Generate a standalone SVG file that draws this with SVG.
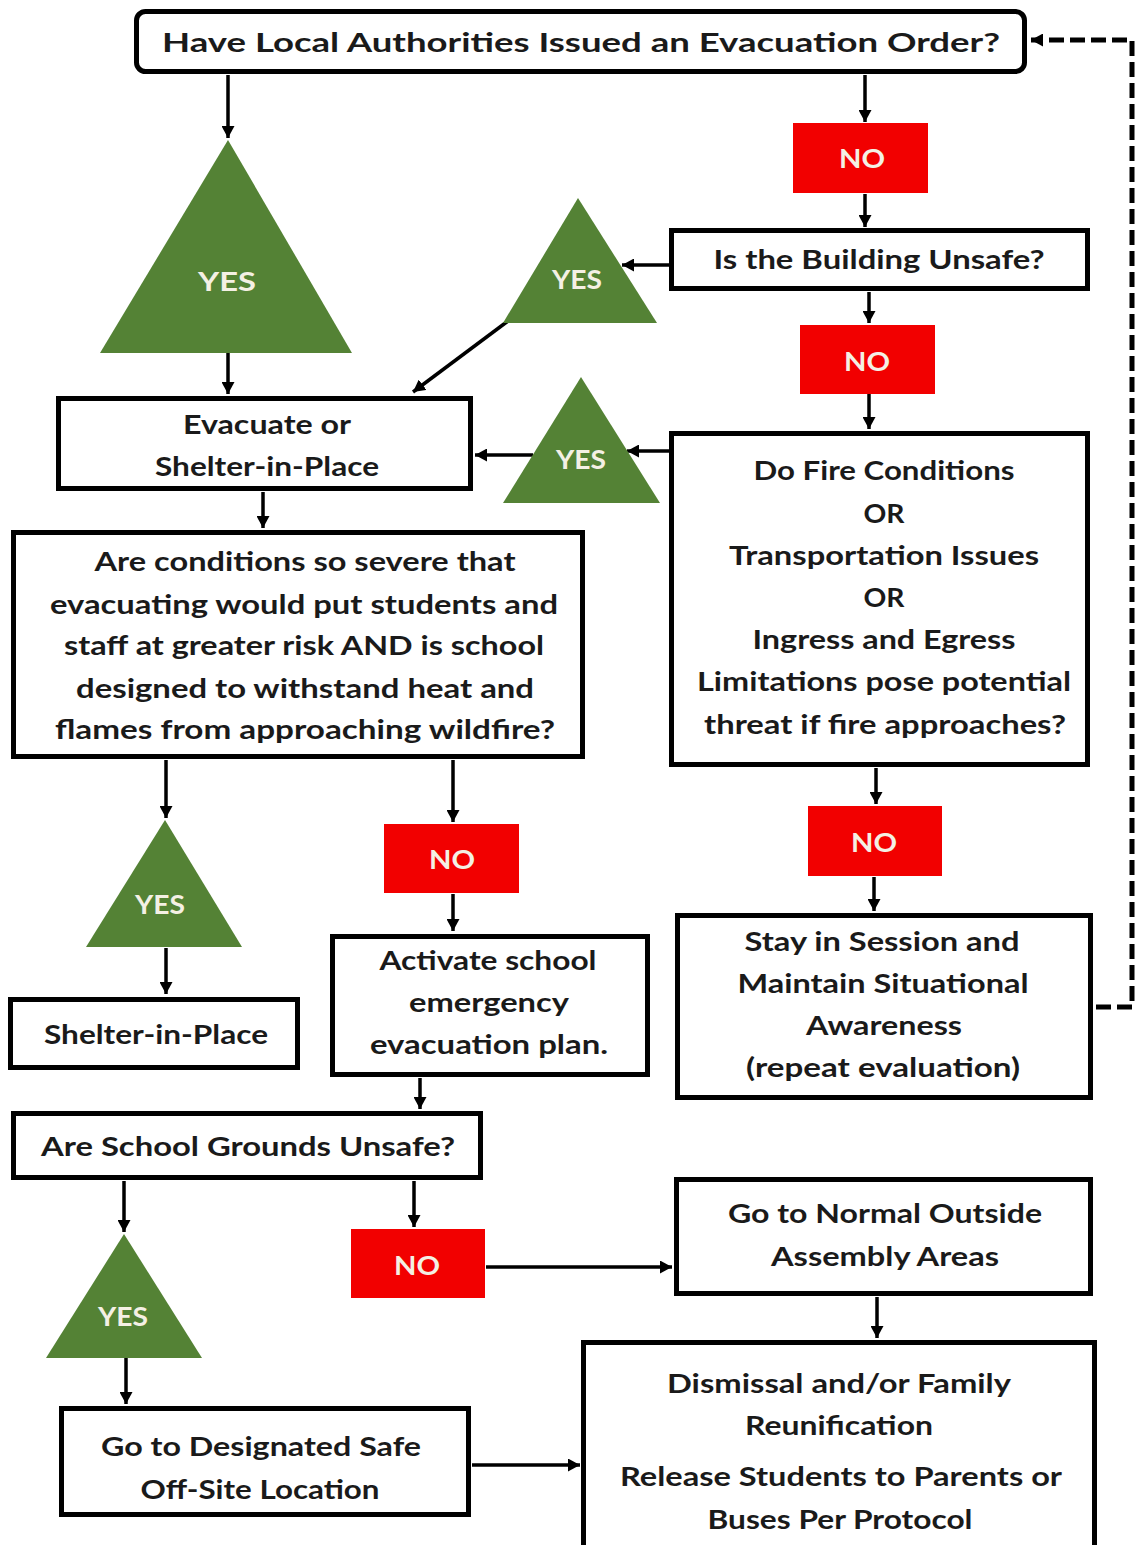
<svg xmlns="http://www.w3.org/2000/svg" width="1135" height="1545" viewBox="0 0 1135 1545">
<style>
  .box{fill:#ffffff;stroke:#000;stroke-width:5}
  .no{fill:#f20000}
  .yes{fill:#548235}
  .t{font-family:Lato,"Open Sans","Liberation Sans",sans-serif;font-weight:700;font-size:27px;fill:#1a1a1a;text-anchor:middle}
  .lbl{font-family:Lato,"Open Sans","Liberation Sans",sans-serif;font-weight:700;font-size:27px;fill:#f4f0e4;text-anchor:middle}
  .c{fill:none;stroke:#000;stroke-width:3.5;marker-end:url(#ah)}
  .d{fill:none;stroke:#000;stroke-width:5;stroke-dasharray:15 6;marker-end:url(#ah)}
</style>
<defs>
  <marker id="ah" markerUnits="userSpaceOnUse" markerWidth="13" markerHeight="13" refX="12" refY="6.5" orient="auto">
    <path d="M0,0 L12,6.5 L0,13 z" fill="#000"/>
  </marker>
</defs>
<rect width="1135" height="1545" fill="#fff"/>
<g id="connectors">
  <path class="c" d="M228,75 V138"/>
  <path class="c" d="M865,75 V122"/>
  <path class="c" d="M865,194 V227"/>
  <path class="c" d="M669,265 H622"/>
  <path class="c" d="M508,321 L413,392"/>
  <path class="c" d="M228,353 V394"/>
  <path class="c" d="M869,292 V323"/>
  <path class="c" d="M869,394 V429"/>
  <path class="c" d="M669,451 H627"/>
  <path class="c" d="M533,455 H475"/>
  <path class="c" d="M263,492 V528"/>
  <path class="c" d="M166,760 V818"/>
  <path class="c" d="M453,760 V822"/>
  <path class="c" d="M166,948 V994"/>
  <path class="c" d="M453,894 V931"/>
  <path class="c" d="M420,1078 V1109"/>
  <path class="c" d="M124,1181 V1232"/>
  <path class="c" d="M414,1181 V1227"/>
  <path class="c" d="M126,1358 V1404"/>
  <path class="c" d="M486,1267 H672"/>
  <path class="c" d="M877,1297 V1338"/>
  <path class="c" d="M472,1465 H580"/>
  <path class="c" d="M876,768 V804"/>
  <path class="c" d="M874,877 V911"/>
  <path class="d" d="M1096,1007 H1132 V40 H1031"/>
</g>
<g id="n-evac-order">
  <rect class="box" x="136.5" y="11.5" width="888" height="60" rx="9"/>
  <text class="t" x="581" y="52" font-size="30" textLength="838" lengthAdjust="spacingAndGlyphs">Have Local Authorities Issued an Evacuation Order?</text>
</g>
<g id="n-yes1">
  <polygon class="yes" points="228,140 100,353 352,353"/>
  <text class="lbl" x="227" y="291" font-size="32" textLength="58" lengthAdjust="spacingAndGlyphs">YES</text>
</g>
<g id="n-no1">
  <rect class="no" x="793" y="123" width="135" height="70"/>
  <text class="lbl" x="862" y="168" textLength="46" lengthAdjust="spacingAndGlyphs">NO</text>
</g>
<g id="n-building">
  <rect class="box" x="671.5" y="230.5" width="416" height="58"/>
  <text class="t" x="879" y="269" textLength="331" lengthAdjust="spacingAndGlyphs">Is the Building Unsafe?</text>
</g>
<g id="n-yes2">
  <polygon class="yes" points="578,198 503,323 657,323"/>
  <text class="lbl" x="577" y="289" textLength="50" lengthAdjust="spacingAndGlyphs">YES</text>
</g>
<g id="n-no2">
  <rect class="no" x="800" y="325" width="135" height="69"/>
  <text class="lbl" x="867" y="371" textLength="46" lengthAdjust="spacingAndGlyphs">NO</text>
</g>
<g id="n-evacuate">
  <rect class="box" x="58.5" y="398.5" width="412" height="90"/>
  <text class="t" x="267" y="434" textLength="168" lengthAdjust="spacingAndGlyphs">Evacuate or</text>
  <text class="t" x="267" y="476" textLength="224" lengthAdjust="spacingAndGlyphs">Shelter-in-Place</text>
</g>
<g id="n-yes3">
  <polygon class="yes" points="581,377 503,503 660,503"/>
  <text class="lbl" x="581" y="469" textLength="50" lengthAdjust="spacingAndGlyphs">YES</text>
</g>
<g id="n-fire">
  <rect class="box" x="671.5" y="433.5" width="416" height="331"/>
  <text class="t" x="884" y="480" textLength="261" lengthAdjust="spacingAndGlyphs">Do Fire Conditions</text>
  <text class="t" x="884" y="523" textLength="41" lengthAdjust="spacingAndGlyphs">OR</text>
  <text class="t" x="884" y="565" textLength="310" lengthAdjust="spacingAndGlyphs">Transportation  Issues</text>
  <text class="t" x="884" y="607" textLength="41" lengthAdjust="spacingAndGlyphs">OR</text>
  <text class="t" x="884" y="649" textLength="263" lengthAdjust="spacingAndGlyphs">Ingress and Egress</text>
  <text class="t" x="884" y="691" textLength="374" lengthAdjust="spacingAndGlyphs">Limitations pose potential</text>
  <text class="t" x="885" y="734" textLength="362" lengthAdjust="spacingAndGlyphs">threat if fire approaches?</text>
</g>
<g id="n-severe">
  <rect class="box" x="13.5" y="532.5" width="569" height="224"/>
  <text class="t" x="305" y="571" textLength="421" lengthAdjust="spacingAndGlyphs">Are conditions so severe that</text>
  <text class="t" x="304" y="614" textLength="508" lengthAdjust="spacingAndGlyphs">evacuating would put students and</text>
  <text class="t" x="304" y="655" textLength="480" lengthAdjust="spacingAndGlyphs">staff at greater risk AND is school</text>
  <text class="t" x="305" y="698" textLength="458" lengthAdjust="spacingAndGlyphs">designed to withstand heat and</text>
  <text class="t" x="305" y="739" textLength="500" lengthAdjust="spacingAndGlyphs">flames from approaching wildfire?</text>
</g>
<g id="n-yes4">
  <polygon class="yes" points="165,820 86,947 242,947"/>
  <text class="lbl" x="160" y="914" textLength="50" lengthAdjust="spacingAndGlyphs">YES</text>
</g>
<g id="n-shelter">
  <rect class="box" x="10.5" y="999.5" width="287" height="68"/>
  <text class="t" x="156" y="1044" textLength="224" lengthAdjust="spacingAndGlyphs">Shelter-in-Place</text>
</g>
<g id="n-no3">
  <rect class="no" x="384" y="824" width="135" height="69"/>
  <text class="lbl" x="452" y="869" textLength="46" lengthAdjust="spacingAndGlyphs">NO</text>
</g>
<g id="n-activate">
  <rect class="box" x="332.5" y="936.5" width="315" height="138"/>
  <text class="t" x="488" y="970" textLength="217" lengthAdjust="spacingAndGlyphs">Activate school</text>
  <text class="t" x="489" y="1012" textLength="160" lengthAdjust="spacingAndGlyphs">emergency</text>
  <text class="t" x="489" y="1054" textLength="238" lengthAdjust="spacingAndGlyphs">evacuation plan.</text>
</g>
<g id="n-no4">
  <rect class="no" x="808" y="806" width="134" height="70"/>
  <text class="lbl" x="874" y="852" textLength="46" lengthAdjust="spacingAndGlyphs">NO</text>
</g>
<g id="n-stay">
  <rect class="box" x="677.5" y="915.5" width="413" height="182"/>
  <text class="t" x="882" y="951" textLength="275" lengthAdjust="spacingAndGlyphs">Stay in Session and</text>
  <text class="t" x="883" y="993" textLength="291" lengthAdjust="spacingAndGlyphs">Maintain  Situational</text>
  <text class="t" x="884" y="1035" textLength="156" lengthAdjust="spacingAndGlyphs">Awareness</text>
  <text class="t" x="883" y="1077" textLength="274" lengthAdjust="spacingAndGlyphs">(repeat evaluation)</text>
</g>
<g id="n-grounds">
  <rect class="box" x="13.5" y="1113.5" width="467" height="64"/>
  <text class="t" x="248" y="1156" textLength="414" lengthAdjust="spacingAndGlyphs">Are School Grounds Unsafe?</text>
</g>
<g id="n-yes5">
  <polygon class="yes" points="124,1234 46,1358 202,1358"/>
  <text class="lbl" x="123" y="1326" textLength="50" lengthAdjust="spacingAndGlyphs">YES</text>
</g>
<g id="n-no5">
  <rect class="no" x="351" y="1229" width="134" height="69"/>
  <text class="lbl" x="417" y="1275" textLength="46" lengthAdjust="spacingAndGlyphs">NO</text>
</g>
<g id="n-normal">
  <rect class="box" x="676.5" y="1179.5" width="414" height="114"/>
  <text class="t" x="885" y="1223" textLength="314" lengthAdjust="spacingAndGlyphs">Go to Normal Outside</text>
  <text class="t" x="885" y="1266" textLength="228" lengthAdjust="spacingAndGlyphs">Assembly Areas</text>
</g>
<g id="n-designated">
  <rect class="box" x="61.5" y="1408.5" width="407" height="106"/>
  <text class="t" x="261" y="1456" textLength="320" lengthAdjust="spacingAndGlyphs">Go to Designated Safe</text>
  <text class="t" x="260" y="1499" textLength="239" lengthAdjust="spacingAndGlyphs">Off-Site Location</text>
</g>
<g id="n-dismissal">
  <rect class="box" x="583.5" y="1342.5" width="511" height="210"/>
  <text class="t" x="839" y="1393" textLength="344" lengthAdjust="spacingAndGlyphs">Dismissal and/or Family</text>
  <text class="t" x="839" y="1435" textLength="188" lengthAdjust="spacingAndGlyphs">Reunification</text>
  <text class="t" x="841" y="1486" textLength="442" lengthAdjust="spacingAndGlyphs">Release Students to Parents or</text>
  <text class="t" x="840" y="1529" textLength="265" lengthAdjust="spacingAndGlyphs">Buses Per Protocol</text>
</g>
</svg>
